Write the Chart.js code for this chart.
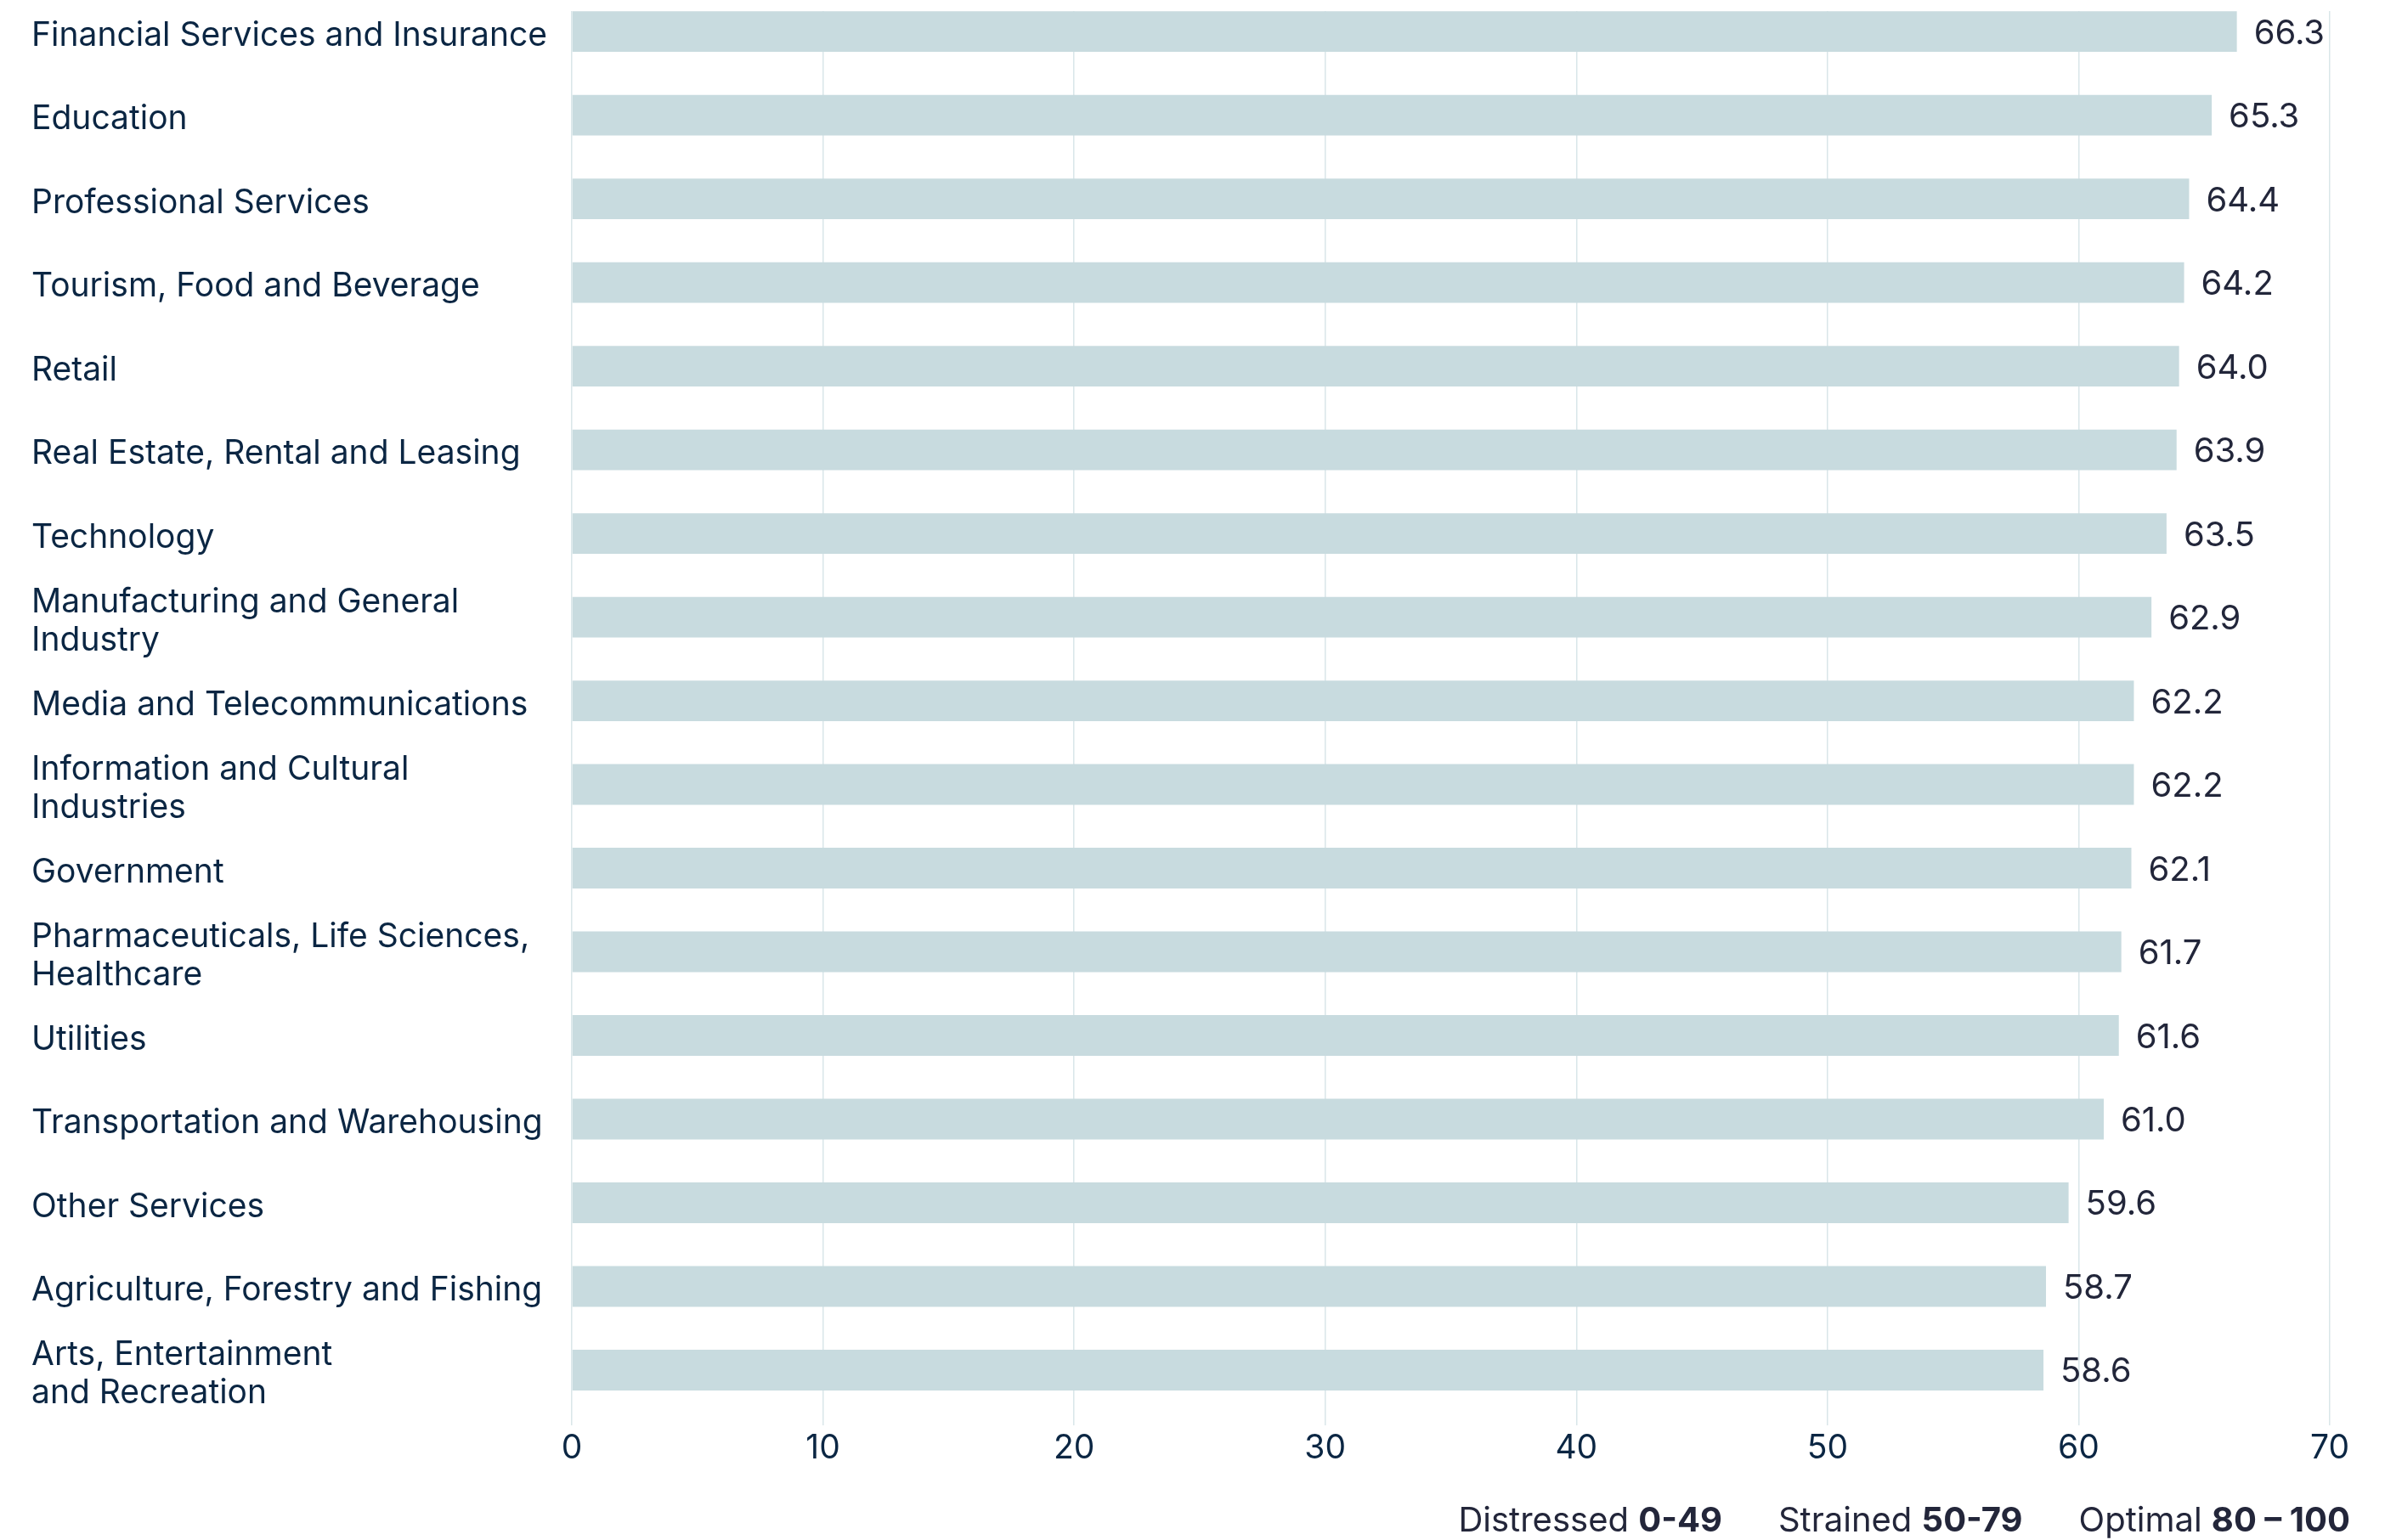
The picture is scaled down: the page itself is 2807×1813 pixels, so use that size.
<!DOCTYPE html>
<html>
<head>
<meta charset="utf-8">
<script src="https://cdn.jsdelivr.net/npm/chart.js@4"></script>
<style>
  html, body { margin: 0; padding: 0; background: #ffffff; }
  #wrap { position: relative; width: 2807px; height: 1813px; }
  #band-key {
    position: absolute;
    right: 41px;
    top: 1765px;
    font-family: Inter, sans-serif;
    font-size: 40px;
    line-height: 48px;
    color: #23263a;
    white-space: nowrap;
  }
  #band-key span + span { margin-left: 66px; }
  #band-key b { font-weight: 700; }
</style>
</head>
<body>
<div id="wrap">
  <canvas id="sectorChart"></canvas>
  <div id="band-key"></div>
</div>
<script>
  // Sector scores, top to bottom
  const categories = [
    "Financial Services and Insurance",
    "Education",
    "Professional Services",
    "Tourism, Food and Beverage",
    "Retail",
    "Real Estate, Rental and Leasing",
    "Technology",
    "Manufacturing and General\nIndustry",
    "Media and Telecommunications",
    "Information and Cultural\nIndustries",
    "Government",
    "Pharmaceuticals, Life Sciences,\nHealthcare",
    "Utilities",
    "Transportation and Warehousing",
    "Other Services",
    "Agriculture, Forestry and Fishing",
    "Arts, Entertainment\nand Recreation"
  ];
  const scores = [66.3, 65.3, 64.4, 64.2, 64.0, 63.9, 63.5, 62.9, 62.2, 62.2, 62.1, 61.7, 61.6, 61.0, 59.6, 58.7, 58.6];
  const xTicks = [0, 10, 20, 30, 40, 50, 60, 70];

  // Score bands shown under the axis
  const bandNames = ["Distressed", "Strained", "Optimal"];
  const bandRanges = ["0-49", "50-79", "80 \u2013 100"];

  const NAVY = "#0b2643";
  const INK = "#22263a";

  Chart.defaults.font.family = "Inter";

  // Score printed just past the end of each bar
  const valueLabels = {
    id: "valueLabels",
    afterDatasetsDraw(chart) {
      const ctx = chart.ctx;
      const meta = chart.getDatasetMeta(0);
      ctx.save();
      ctx.font = "40px Inter";
      ctx.fillStyle = INK;
      ctx.textAlign = "left";
      ctx.textBaseline = "alphabetic";
      meta.data.forEach((bar, i) => {
        ctx.fillText(scores[i].toFixed(1), bar.x + 20, bar.y + 14.5);
      });
      ctx.restore();
    }
  };

  const ctx = document.getElementById("sectorChart").getContext("2d");
  new Chart(ctx, {
    type: "bar",
    data: {
      datasets: [{
        data: scores.map((v, i) => ({ x: v, y: i })),
        backgroundColor: "#c8dbdf",
        borderWidth: 0,
        categoryPercentage: 1,
        barPercentage: 0.485
      }]
    },
    options: {
      indexAxis: "y",
      responsive: true,
      maintainAspectRatio: false,
      animation: false,
      layout: {
        padding: { left: 37, top: 13, right: 65, bottom: 75 }
      },
      plugins: {
        legend: { display: false },
        tooltip: { enabled: false }
      },
      scales: {
        x: {
          type: "linear",
          position: "bottom",
          min: 0,
          max: 70,
          afterBuildTicks: axis => { axis.ticks = xTicks.map(v => ({ value: v })); },
          afterFit: axis => { axis.height = 60; },
          grid: {
            color: "#d9e6e9",
            lineWidth: 1.5,
            drawTicks: false
          },
          border: { display: false },
          ticks: {
            color: NAVY,
            padding: 4,
            font: { size: 39 }
          }
        },
        y: {
          type: "linear",
          reverse: true,
          offset: false,
          min: -0.244,
          max: 16.66,
          afterBuildTicks: axis => { axis.ticks = categories.map((_, i) => ({ value: i })); },
          afterFit: axis => {
            axis.width = 636;
            axis.paddingTop = 0;
            axis.paddingBottom = 0;
          },
          grid: { display: false, offset: false },
          border: { display: false },
          ticks: {
            autoSkip: false,
            crossAlign: "far",
            padding: 0,
            labelOffset: 5,
            color: NAVY,
            font: { size: 39, lineHeight: 1.15 },
            callback: v => categories[v].split("\n")
          }
        }
      }
    },
    plugins: [valueLabels]
  });

  // Band key
  const key = document.getElementById("band-key");
  bandNames.forEach((name, i) => {
    const item = document.createElement("span");
    item.append(name + " ");
    const b = document.createElement("b");
    b.textContent = bandRanges[i];
    item.appendChild(b);
    key.appendChild(item);
  });
</script>
</body>
</html>
